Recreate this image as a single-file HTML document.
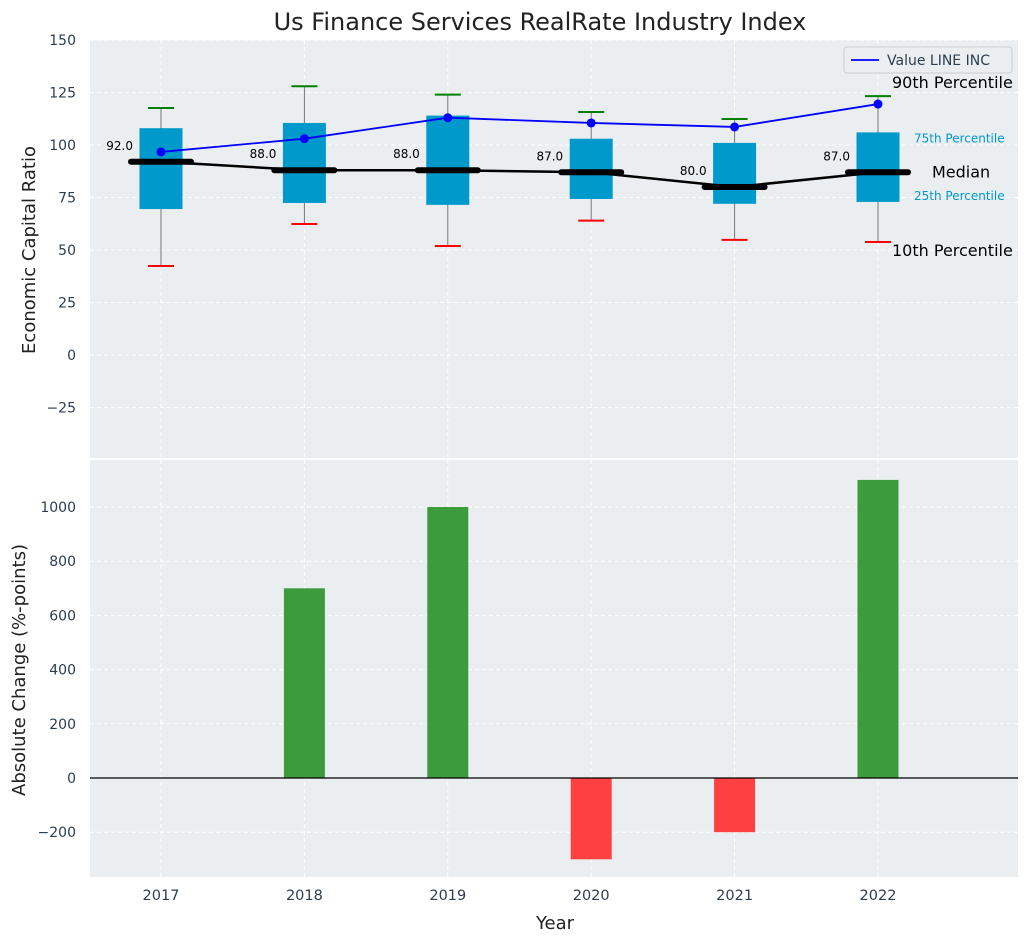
<!DOCTYPE html>
<html><head><meta charset="utf-8">
<style>
body{margin:0;background:#fff;font-family:"Liberation Sans","DejaVu Sans",sans-serif;}
svg text{font-family:"DejaVu Sans","Liberation Sans",sans-serif;}
</style></head>
<body>
<svg id="chart" width="1029" height="942" viewBox="0 0 1029 942" xmlns="http://www.w3.org/2000/svg"></svg>
<script>
const years=["2017","2018","2019","2020","2021","2022"];
const q1=[69.5,72.4,71.5,74.3,72,72.9];
const q3=[108,110.5,114,103,101,106];
const p10=[42.4,62.4,51.9,64,54.8,53.8];
const p90=[117.6,128,124,115.7,112.4,123.3];
const medians=[92,88,88,87,80,87];
const values=[96.7,103,113,110.5,108.6,119.5];
const changes=[0,700,1000,-300,-200,1100];
const topTicks=[150,125,100,75,50,25,0,-25];
const botTicks=[1000,800,600,400,200,0,-200];

const NS="http://www.w3.org/2000/svg";
const svg=document.getElementById('chart');
function mk(tag,attrs,parent){const e=document.createElementNS(NS,tag);for(const k in attrs)e.setAttribute(k,attrs[k]);(parent||svg).appendChild(e);return e;}
const L=90,R=1018;
const X=i=>161+i*143.4;
const Y1=v=>355-v*2.1;
const Y2=v=>778-v*0.271;
const T1=40,B1=458,T2=460,B2=877;

let e=mk('rect',{x:L,y:T1,width:R-L,height:B1-T1,fill:'#eaeef0'});

e=mk('rect',{x:L,y:T2,width:R-L,height:B2-T2,fill:'#eaeef0'});


years.forEach((y,i)=>{
 mk('line',{x1:X(i),x2:X(i),y1:T1,y2:B1,stroke:'#fff','stroke-dasharray':'4,3','stroke-width':1});
 mk('line',{x1:X(i),x2:X(i),y1:T2,y2:B2,stroke:'#fff','stroke-dasharray':'4,3','stroke-width':1});
 const t=mk('text',{x:X(i),y:900,'font-size':14.5,fill:'#2d3e50','text-anchor':'middle'});t.textContent=y;
 
});
topTicks.forEach(v=>{
 mk('line',{x1:L,x2:R,y1:Y1(v),y2:Y1(v),stroke:'#fff','stroke-dasharray':'4,3'});
 const t=mk('text',{x:76,y:Y1(v)+5,'font-size':14,fill:'#2d3e50','text-anchor':'end'});t.textContent=v<0?'\u2212'+(-v):v;
 
});
botTicks.forEach(v=>{
 mk('line',{x1:L,x2:R,y1:Y2(v),y2:Y2(v),stroke:'#fff','stroke-dasharray':'4,3'});
 const t=mk('text',{x:76,y:Y2(v)+5,'font-size':14,fill:'#2d3e50','text-anchor':'end'});t.textContent=v<0?'\u2212'+(-v):v;
 
});

years.forEach((y,i)=>{
 const x=X(i);
 mk('line',{x1:x,x2:x,y1:Y1(p90[i]),y2:Y1(p10[i]),stroke:'#777','stroke-width':1});
 const b=mk('rect',{x:x-21.5,y:Y1(q3[i]),width:43,height:Y1(q1[i])-Y1(q3[i]),fill:'#0099cc'});
 
 mk('line',{x1:x-13,x2:x+13,y1:Y1(p90[i]),y2:Y1(p90[i]),stroke:'green','stroke-width':2});
 mk('line',{x1:x-13,x2:x+13,y1:Y1(p10[i]),y2:Y1(p10[i]),stroke:'red','stroke-width':2});
 const m=mk('line',{x1:x-30,x2:x+30,y1:Y1(medians[i]),y2:Y1(medians[i]),stroke:'#000','stroke-width':6,'stroke-linecap':'round'});
 
 const t=mk('text',{x:x-28,y:Y1(medians[i])-12,'font-size':12,fill:'#000','text-anchor':'end'});t.textContent=medians[i].toFixed(1);
 
});
let med=mk('polyline',{points:medians.map((v,i)=>X(i)+','+Y1(v)).join(' '),fill:'none',stroke:'#000','stroke-width':2.5});

let vl=mk('polyline',{points:values.map((v,i)=>X(i)+','+Y1(v)).join(' '),fill:'none',stroke:'blue','stroke-width':1.8});

values.forEach((v,i)=>{const c=mk('circle',{cx:X(i),cy:Y1(v),r:4.5,fill:'blue'});
 });

const ax=X(5);
[['90th Percentile',ax+14,Y1(p90[5])-8,16,'#000'],['75th Percentile',ax+36,Y1(q3[5])+10,12,'#0099cc'],['Median',ax+54,Y1(medians[5])+5,16,'#000'],['25th Percentile',ax+36,Y1(q1[5])-2,12,'#0099cc'],['10th Percentile',ax+14,Y1(p10[5])+14,16,'#000']].forEach(a=>{
 const t=mk('text',{x:a[1],y:a[2],'font-size':a[3],fill:a[4]});t.textContent=a[0];
 
});

const lg=mk('g',{});
mk('rect',{x:844,y:47,width:168,height:26,rx:3,fill:'#eaeef0',stroke:'#ccc'},lg);
mk('line',{x1:851,x2:879,y1:60,y2:60,stroke:'blue','stroke-width':1.8},lg);
let lt=mk('text',{x:887,y:65,'font-size':14,fill:'#2d3e50'},lg);lt.textContent='Value LINE INC';

changes.forEach((v,i)=>{
 const y0=Y2(0),yv=Y2(v);
 const r=mk('rect',{x:X(i)-20.5,y:Math.min(y0,yv),width:41,height:Math.abs(yv-y0),fill:v>=0?'#3c9b3c':'#ff4040'});
 
});
mk('line',{x1:L,x2:R,y1:Y2(0),y2:Y2(0),stroke:'#000','stroke-width':1.2});

let t=mk('text',{x:540,y:30,'font-size':24,fill:'#222','text-anchor':'middle'});t.textContent='Us Finance Services RealRate Industry Index';

t=mk('text',{x:555,y:929,'font-size':18,fill:'#222','text-anchor':'middle'});t.textContent='Year';

t=mk('text',{x:0,y:0,'font-size':18,fill:'#222','text-anchor':'middle',transform:'translate(35,250) rotate(-90)'});t.textContent='Economic Capital Ratio';

t=mk('text',{x:0,y:0,'font-size':18,fill:'#222','text-anchor':'middle',transform:'translate(25,670) rotate(-90)'});t.textContent='Absolute Change (%-points)';

</script>
</body></html>
